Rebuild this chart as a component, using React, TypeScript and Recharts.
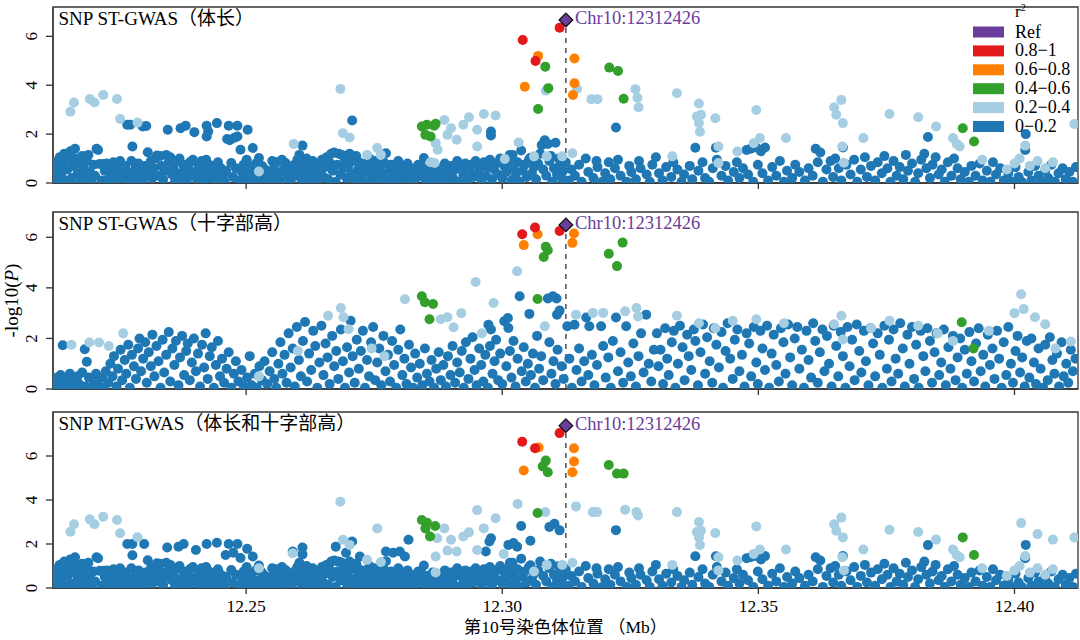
import React from 'react';
import { ScatterChart, Scatter, XAxis, YAxis, ReferenceLine, ReferenceArea, Legend, Label } from 'recharts';

const FONT = "'Liberation Serif', 'Times New Roman', 'Noto Sans CJK SC', serif";
const AXIS = '#333';

// ---------- axes / labels ----------
const X_MIN = 12.2123;
const X_MAX = 12.4124;
const X_TICKS = [12.25, 12.3, 12.35, 12.4];
const Y_TICKS = [0, 2, 4, 6];
const REF_POS = 12.312426;
const REF_LABEL = 'Chr10:12312426';
const PANEL_TITLES = ['SNP ST-GWAS（体长）', 'SNP ST-GWAS（十字部高）', 'SNP MT-GWAS（体长和十字部高）'];
const Y_MAX = [7.2, 7.0, 8.0];
const REF_LOGP = [6.67, 6.49, 7.38];
const LEGEND_LABELS = ['Ref', '0.8−1', '0.6−0.8', '0.4−0.6', '0.2−0.4', '0−0.2'];
const COLORS = ['#6A3D9A', '#E31A1C', '#FF7F00', '#33A02C', '#A6CEE3', '#1F78B4'];
const X_LABEL = '第10号染色体位置 （Mb）';
const Y_LABEL = '-log10(';

// ---------- background SNPs (r2 0-0.2), body-length trait (used in ST & MT panels) ----------
const bandBlueST = [
[12.2125,0.35],[12.2127,0.85],[12.2130,0.05],[12.2133,0.6],[12.2136,1.05],[12.2139,0.3],[12.2142,0.75],[12.2145,1.2],[12.2148,0.1],[12.2151,0.55],[12.2154,0.95],[12.2157,1.3],[12.2160,0.2],[12.2163,0.7],[12.2166,1.4],[12.2168,1.0],[12.2171,0.4],[12.2174,0.8],[12.2177,0.05],[12.2180,1.1],[12.2183,0.6],[12.2186,0.25],[12.2189,0.9],[12.2192,1.15],[12.2195,0.45],[12.2198,0.05],
[12.2202,0.75],[12.2205,0.3],[12.2208,1.4],[12.2211,1.35],[12.2214,0.78],[12.2218,0.1],[12.2221,0.78],[12.2224,0.5],[12.2228,0.8],[12.2231,0.15],[12.2234,0.75],[12.2238,0.4],[12.2241,0.85],[12.2244,0.05],[12.2247,0.6],[12.2250,0.3],[12.2254,0.9],[12.2257,0.55],
[12.2261,0.2],[12.2264,0.7],[12.2270,0.45],[12.2273,0.05],[12.2276,0.9],[12.2278,1.49],[12.2281,0.3],[12.2284,0.6],[12.2287,0.1],[12.2290,0.8],[12.2293,0.35],[12.2296,0.55],[12.2300,0.15],[12.2303,0.7],[12.2308,1.26],[12.2311,0.4],[12.2314,0.9],[12.2317,0.2],[12.2320,0.6],[12.2323,1.0],[12.2326,1.12],[12.2329,0.3],
[12.2332,1.1],[12.2335,0.7],[12.2338,0.15],[12.2341,0.5],[12.2344,1.15],[12.2349,0.85],[12.2352,1.05],[12.2355,0.35],[12.2358,0.65],[12.2361,0.05],[12.2364,0.9],[12.2367,0.4],[12.2370,1.0],[12.2374,0.2],[12.2377,0.75],[12.2380,0.5],[12.2384,0.1],[12.2387,0.6],[12.2390,0.85],[12.2393,0.3],[12.2396,0.95],
[12.2401,0.45],[12.2404,0.15],[12.2407,0.7],[12.2410,0.35],[12.2413,0.9],[12.2416,0.05],[12.2419,0.55],[12.2422,0.95],[12.2425,0.3],[12.2428,0.75],[12.2432,0.2],[12.2435,0.6],[12.2438,0.1],[12.2441,0.4],[12.2445,0.85],[12.2448,0.15],[12.2451,0.6],[12.2455,0.3],[12.2458,0.05],[12.2461,0.5],[12.2471,0.82],[12.2474,0.25],[12.2480,0.6],[12.2486,0.1],[12.2489,1.36],[12.2492,0.45],[12.2495,0.75],[12.2498,0.2],
[12.2501,0.95],[12.2504,0.55],[12.2507,0.15],[12.2510,0.65],[12.2513,1.43],[12.2516,0.35],[12.2519,0.8],[12.2522,0.05],[12.2525,1.02],[12.2528,0.4],[12.2531,0.7],[12.2534,0.2],[12.2537,0.55],[12.2540,0.1],[12.2544,0.45],[12.2548,0.3],[12.2551,0.9],[12.2554,0.6],[12.2557,0.15],[12.2560,0.85],[12.2563,0.4],[12.2566,0.05],[12.2570,0.95],[12.2573,0.55],[12.2577,0.82],[12.2580,0.25],[12.2583,0.65],[12.2587,0.1],[12.2590,0.45],[12.2594,0.75],[12.2597,0.3],
[12.2600,0.95],[12.2604,1.15],[12.2605,0.6],[12.2610,1.53],[12.2608,0.15],[12.2612,0.8],[12.2615,0.4],[12.2618,1.0],[12.2621,0.05],[12.2624,0.7],[12.2627,0.35],[12.2630,0.9],[12.2633,0.2],[12.2636,0.6],[12.2639,0.1],[12.2642,0.75],[12.2645,0.45],[12.2648,0.95],[12.2651,0.25],[12.2654,0.65],[12.2657,1.05],[12.2660,0.15],[12.2663,0.85],[12.2666,1.2],[12.2669,0.5],[12.2672,1.25],[12.2675,0.05],[12.2678,0.75],[12.2681,1.2],[12.2684,0.35],[12.2687,1.15],[12.2690,0.6],[12.2693,0.95],[12.2696,0.2],[12.2699,0.7],
[12.2702,1.2],[12.2705,0.4],[12.2709,0.9],[12.2712,0.15],[12.2715,1.1],[12.2718,0.55],[12.2721,0.85],[12.2724,0.3],[12.2727,0.65],[12.2730,0.05],[12.2733,0.8],[12.2737,0.45],[12.2741,1.0],[12.2744,0.2],[12.2748,0.6],[12.2751,0.9],[12.2755,0.35],[12.2758,0.1],[12.2762,0.7],[12.2766,0.4],[12.2769,0.85],[12.2773,1.22],[12.2776,0.15],[12.2780,0.55],[12.2783,0.75],[12.2787,0.3],[12.2790,0.05],[12.2794,0.6],[12.2797,0.9],
[12.2801,0.25],[12.2804,0.7],[12.2808,0.45],[12.2811,0.1],[12.2815,0.8],[12.2818,0.35],[12.2822,0.6],[12.2825,0.05],[12.2829,0.5],[12.2832,0.2],[12.2836,0.75],[12.2840,0.3],[12.2843,0.65],[12.2847,1.02],[12.2850,0.15],[12.2854,0.55],[12.2857,0.4],[12.2861,0.05],[12.2864,0.7],[12.2868,0.25],[12.2872,0.5],[12.2876,0.1],[12.2880,0.6],[12.2884,0.35],[12.2888,0.8],[12.2892,0.15],[12.2896,0.45],
[12.2900,0.7],[12.2904,0.2],[12.2908,0.55],[12.2912,0.9],[12.2916,0.05],[12.2920,0.65],[12.2924,0.35],[12.2928,0.8],[12.2932,0.1],[12.2936,0.5],[12.2940,0.75],[12.2944,0.25],[12.2948,0.9],[12.2952,0.4],[12.2956,0.6],[12.2960,0.05],[12.2964,0.85],[12.2968,0.3],[12.2972,0.65],[12.2976,0.95],[12.2980,0.15],[12.2984,0.55],[12.2988,0.8],[12.2992,0.35],[12.2996,1.0],
[12.3000,0.2],[12.3004,0.7],[12.3008,0.45],[12.3012,0.9],[12.3015,1.15],[12.3018,0.1],[12.3020,1.15],[12.3022,0.6],[12.3026,0.3],[12.3030,0.85],[12.3034,0.05],[12.3037,1.33],[12.3040,0.5],[12.3044,0.75],[12.3048,0.25],[12.3052,0.95],[12.3055,1.03],[12.3058,0.4],[12.3062,0.65],[12.3066,0.15],[12.3070,0.8],[12.3074,1.2],[12.3080,0.55],[12.3086,0.3],[12.3092,0.9],[12.3095,1.1],[12.3098,0.05],[12.3101,0.6],[12.3107,0.35],[12.3110,1.0],[12.3113,0.75],[12.3116,0.2],[12.3119,0.5],
[12.3124,0.85],[12.3130,0.1],[12.3135,0.55],[12.3142,0.3],[12.3150,0.75],[12.3155,0.05],[12.3163,1.0],[12.3168,0.45],[12.3178,0.2],[12.3184,0.9],[12.3186,0.65],[12.3195,0.05],[12.3201,0.4],[12.3208,0.85],[12.3211,0.15],[12.3220,0.6],[12.3226,0.95],[12.3231,0.3],[12.3243,0.05],[12.3248,0.7],[12.3252,0.45],[12.3261,0.15],[12.3267,0.9],[12.3270,0.6],[12.3282,0.35],[12.3288,0.05],[12.3293,0.75],
[12.3300,1.05],[12.3306,0.4],[12.3313,0.1],[12.3320,0.65],[12.3330,0.25],[12.3334,0.85],[12.3342,0.55],[12.3350,0.05],[12.3355,0.35],[12.3366,0.7],[12.3371,0.15],[12.3377,1.44],[12.3383,0.5],[12.3391,0.85],[12.3396,0.2],[12.3404,0.05],[12.3411,0.6],[12.3417,1.44],[12.3419,0.95],[12.3428,0.3],[12.3436,0.7],[12.3441,0.1],[12.3452,0.45],[12.3458,0.85],[12.3463,0.2],[12.3470,0.6],[12.3477,1.35],[12.3480,0.35],[12.3485,1.4],[12.3490,0.05],[12.3496,1.45],[12.3499,0.75],
[12.3505,1.3],[12.3508,0.4],[12.3513,1.45],[12.3519,0.1],[12.3527,0.65],[12.3535,0.3],[12.3542,0.9],[12.3550,0.05],[12.3556,0.5],[12.3566,0.2],[12.3572,0.75],[12.3580,0.45],[12.3591,0.1],[12.3598,0.6],[12.3606,0.3],[12.3612,1.4],[12.3616,0.85],[12.3621,1.25],[12.3626,0.05],[12.3633,0.55],[12.3641,0.9],[12.3646,0.25],[12.3650,1.0],[12.3657,0.6],[12.3662,0.1],[12.3665,1.45],[12.3672,0.75],[12.3680,0.35],[12.3687,0.95],[12.3693,0.05],
[12.3700,0.55],[12.3708,1.05],[12.3712,0.25],[12.3720,0.7],[12.3728,0.1],[12.3733,0.85],[12.3741,0.4],[12.3746,1.1],[12.3752,0.6],[12.3758,0.05],[12.3764,0.9],[12.3770,0.3],[12.3776,0.65],[12.3783,0.15],[12.3788,1.15],[12.3792,0.5],[12.3800,0.8],[12.3806,0.05],[12.3812,0.4],[12.3818,0.95],[12.3824,1.2],[12.3828,0.6],[12.3835,0.2],[12.3840,0.75],[12.3846,1.05],[12.3852,0.35],[12.3858,0.55],[12.3864,0.05],[12.3870,0.85],[12.3877,0.3],[12.3882,1.0],[12.3889,0.6],[12.3895,0.15],
[12.3903,0.45],[12.3911,0.05],[12.3916,0.7],[12.3924,0.3],[12.3932,0.8],[12.3938,0.1],[12.3946,0.5],[12.3953,0.05],[12.3958,0.85],[12.3964,0.35],[12.3972,0.6],[12.3979,0.1],[12.3988,0.4],[12.3995,0.05],[12.4002,0.65],[12.4008,0.25],[12.4014,0.05],[12.4021,1.35],[12.4027,0.45],[12.4033,0.1],[12.4040,0.7],[12.4047,0.3],[12.4052,0.05],[12.4060,0.5],[12.4066,0.2],[12.4072,0.75],[12.4079,0.05],[12.4086,0.4],[12.4094,0.6],[12.4100,0.15],[12.4107,0.45],[12.4114,0.05],[12.4120,0.65],
];

// ---------- panel 1: ST-GWAS body length ----------
const p1BlueHigh = [
[12.2268,2.38],[12.2274,2.38],[12.2298,2.31],[12.2305,2.33],[12.2347,2.18],[12.2372,2.24],[12.2382,2.34],[12.2399,2.08],[12.2423,2.34],[12.2426,2.11],[12.2423,1.9],[12.2443,2.45],[12.2463,1.8],[12.2466,2.34],[12.2468,1.75],[12.2477,1.85],[12.2483,2.34],[12.2483,1.9],[12.2503,2.18],[12.2707,2.56],[12.2978,2.11],[12.2978,1.94],[12.3077,1.55],[12.3083,1.75],[12.3089,1.6],[12.3104,1.65],[12.3222,2.27],[12.3831,1.88],[12.4022,2.0],
];
const p1Light = [
[12.2157,2.92],[12.2164,3.29],[12.2195,3.44],[12.2204,3.29],[12.2221,3.6],[12.2248,3.44],[12.2254,2.62],[12.2288,2.47],[12.2525,0.47],[12.2593,1.6],[12.2684,3.85],[12.2689,2.04],[12.2702,1.86],[12.2736,1.15],[12.2756,1.43],[12.2763,1.15],[12.2887,2.58],[12.2870,1.63],[12.2874,1.36],[12.2868,0.82],[12.2860,0.85],[12.2893,1.97],[12.2900,2.24],[12.2911,1.77],[12.2924,2.38],[12.2935,2.69],[12.2964,2.82],[12.2987,2.76],[12.2951,2.18],[12.2951,1.49],[12.3005,0.98],[12.3032,1.66],[12.3062,1.09],
[12.3085,3.78],[12.3146,3.85],[12.3174,3.43],[12.3186,3.43],[12.3260,3.84],[12.3264,3.49],[12.3266,3.1],[12.3087,1.09],[12.3117,1.09],[12.3137,1.22],
[12.3341,3.67],[12.3384,3.25],[12.3380,2.72],[12.3388,2.79],[12.3384,2.45],[12.3386,2.1],[12.3416,2.65],[12.3496,2.99],[12.3648,3.1],[12.3662,3.4],[12.3652,2.79],[12.3665,2.45],[12.3756,2.82],[12.3812,2.69],[12.3847,2.31],[12.4117,2.41],[12.4021,1.53],[12.3880,1.84],[12.3887,1.6],[12.3893,1.49],[12.3705,1.84],[12.3937,0.95],[12.3985,0.55],[12.4000,0.8],[12.4010,1.0],[12.4030,0.7],[12.4045,0.9],[12.4060,0.6],[12.4075,0.85],[12.3554,1.84],[12.3503,1.84],[12.3491,1.63],[12.3422,1.49],[12.3422,0.82],[12.3332,1.09],[12.3459,1.29],[12.3664,1.49],[12.3667,0.83],
];
const p1Green = [[12.2843,2.31],[12.2853,2.38],[12.2867,2.34],[12.2870,2.42],[12.2850,1.97],[12.2860,1.9],[12.3084,4.76],[12.3090,3.88],[12.3070,3.03],[12.3209,4.72],[12.3226,4.58],[12.3237,3.45],[12.3899,2.24],[12.3921,1.7]];
const p1Orange = [[12.3070,5.2],[12.3141,5.09],[12.3044,3.94],[12.3141,4.08],[12.3138,3.6]];
const p1Red = [[12.3112,6.35],[12.3040,5.85],[12.3065,4.99]];

// ---------- panel 2: ST-GWAS cross height ----------
const p2Blue = [
[12.2125,0.3],[12.2127,0.05],[12.2131,0.45],[12.2133,0.15],[12.2138,0.55],[12.2142,1.73],[12.2143,0.25],[12.2147,0.05],[12.2150,0.4],[12.2156,0.6],[12.2158,0.1],[12.2163,0.35],[12.2166,0.05],[12.2171,0.5],[12.2174,0.2],[12.2180,0.65],[12.2185,1.57],[12.2186,0.1],[12.2189,1.08],[12.2193,0.45],[12.2198,0.05],[12.2203,0.3],[12.2207,0.6],[12.2211,0.15],[12.2219,0.45],[12.2222,0.05],[12.2226,0.7],[12.2231,0.25],[12.2235,1.0],[12.2239,0.5],[12.2242,1.3],[12.2247,0.1],[12.2250,0.8],[12.2255,1.55],[12.2258,0.35],[12.2263,1.15],[12.2266,0.6],[12.2270,1.75],[12.2273,0.05],[12.2277,1.35],[12.2281,0.9],[12.2285,0.4],[12.2289,1.6],[12.2292,2.0],[12.2295,0.7],[12.2299,1.2],
[12.2303,1.85],[12.2306,0.25],[12.2310,1.45],[12.2314,0.9],[12.2317,2.15],[12.2321,0.5],[12.2325,1.7],[12.2329,1.1],[12.2333,0.05],[12.2337,1.95],[12.2340,0.65],[12.2344,1.35],[12.2349,2.25],[12.2352,0.3],[12.2356,1.6],[12.2360,0.95],[12.2363,1.9],[12.2368,0.15],[12.2371,1.25],[12.2375,2.1],[12.2379,0.55],[12.2383,1.5],[12.2386,1.8],[12.2390,0.35],[12.2394,1.05],[12.2398,2.0],[12.2402,0.7],[12.2406,1.4],[12.2410,0.1],[12.2414,1.75],[12.2418,0.85],[12.2421,2.2],[12.2425,0.4],[12.2429,1.3],[12.2433,1.65],[12.2437,0.05],[12.2441,0.95],[12.2445,1.9],[12.2449,0.5],[12.2453,1.2],[12.2457,0.25],[12.2462,0.8],[12.2466,1.45],[12.2471,0.05],[12.2476,0.6],[12.2480,1.1],[12.2485,0.3],[12.2491,0.75],[12.2496,0.1],
[12.2502,0.45],[12.2507,1.3],[12.2511,0.15],[12.2517,0.6],[12.2521,0.05],[12.2526,0.9],[12.2531,0.35],[12.2536,1.1],[12.2541,0.2],[12.2546,0.7],[12.2551,1.45],[12.2555,0.4],[12.2559,0.05],[12.2563,1.0],[12.2567,1.85],[12.2571,0.6],[12.2575,1.35],[12.2579,0.25],[12.2583,2.2],[12.2587,0.85],[12.2591,1.6],[12.2595,0.1],[12.2599,2.45],[12.2603,1.15],[12.2607,0.5],[12.2611,1.9],[12.2615,2.65],[12.2619,0.3],[12.2623,1.4],[12.2627,0.75],[12.2631,2.3],[12.2635,1.7],[12.2639,0.05],[12.2643,1.05],[12.2647,2.5],[12.2651,0.55],[12.2655,1.8],[12.2659,1.25],[12.2663,0.2],[12.2668,2.1],[12.2672,0.9],[12.2676,1.5],[12.2680,0.4],[12.2685,2.35],[12.2689,1.1],[12.2693,0.05],[12.2697,1.65],
[12.2701,0.65],[12.2704,2.7],[12.2708,1.3],[12.2712,0.25],[12.2716,1.95],[12.2720,0.8],[12.2724,1.5],[12.2728,2.3],[12.2732,0.05],[12.2736,1.15],[12.2740,0.5],[12.2744,1.85],[12.2748,2.45],[12.2752,0.35],[12.2756,1.05],[12.2760,1.6],[12.2764,0.15],[12.2768,2.1],[12.2772,0.7],[12.2777,1.35],[12.2781,0.3],[12.2785,1.9],[12.2789,0.95],[12.2793,0.05],[12.2797,1.55],[12.2801,2.35],[12.2805,0.55],[12.2809,1.2],[12.2813,0.2],[12.2818,1.75],[12.2822,0.85],[12.2826,0.05],[12.2830,1.4],[12.2834,0.45],[12.2839,1.0],[12.2844,0.15],[12.2849,1.6],[12.2853,0.6],[12.2858,0.3],[12.2862,1.15],[12.2867,0.05],[12.2871,0.8],[12.2876,1.45],[12.2880,0.35],[12.2885,0.95],[12.2890,0.1],[12.2894,1.3],[12.2899,0.55],
[12.2903,1.7],[12.2908,0.25],[12.2912,1.05],[12.2917,0.65],[12.2921,1.5],[12.2925,0.05],[12.2929,1.85],[12.2934,0.4],[12.2938,1.2],[12.2942,2.05],[12.2946,0.75],[12.2950,0.15],[12.2955,1.6],[12.2959,0.95],[12.2963,0.3],[12.2967,1.35],[12.2972,0.05],[12.2973,2.54],[12.2976,1.7],[12.2978,2.35],[12.2981,0.6],[12.2985,1.1],[12.2988,1.95],[12.2992,0.35],[12.2996,1.4],
[12.3000,0.2],[12.3004,2.68],[12.3008,0.9],[12.3011,2.81],[12.3012,2.41],[12.3015,1.5],[12.3018,0.45],[12.3022,1.9],[12.3026,0.1],[12.3030,1.2],[12.3034,3.67],[12.3038,0.7],[12.3042,1.65],[12.3046,0.3],[12.3050,1.0],[12.3053,2.97],[12.3056,0.55],[12.3060,1.4],[12.3064,0.05],[12.3068,2.1],[12.3072,0.8],[12.3076,1.3],[12.3080,0.35],[12.3089,3.58],[12.3099,3.67],[12.3106,3.58],[12.3112,3.1],[12.3107,2.94],[12.3092,1.85],[12.3096,0.6],[12.3100,1.1],[12.3104,0.2],[12.3108,1.55],[12.3116,0.9],[12.3120,0.4],[12.3127,2.48],[12.3131,1.2],[12.3136,0.05],[12.3141,2.54],[12.3145,0.75],[12.3150,1.6],[12.3155,0.3],[12.3160,1.1],[12.3164,2.83],[12.3168,0.55],[12.3170,2.48],[12.3175,1.35],[12.3180,0.15],[12.3185,0.95],[12.3193,2.48],[12.3197,1.7],[12.3202,0.45],[12.3207,1.25],[12.3212,0.05],[12.3216,1.9],[12.3222,2.83],[12.3226,0.7],[12.3231,1.45],[12.3236,0.25],[12.3242,2.48],[12.3246,1.05],[12.3251,0.5],[12.3256,1.8],[12.3261,0.1],[12.3266,1.3],[12.3271,2.2],[12.3276,0.65],[12.3281,2.94],[12.3286,1.0],[12.3291,0.3],[12.3296,1.55],
[12.3302,2.2],[12.3305,0.9],[12.3309,1.55],[12.3314,0.2],[12.3318,2.4],[12.3322,1.2],[12.3325,0.55],[12.3331,1.85],[12.3335,2.3],[12.3338,0.05],[12.3343,1.0],[12.3347,2.5],[12.3352,1.65],[12.3356,0.35],[12.3361,2.15],[12.3364,1.3],[12.3369,0.75],[12.3374,2.35],[12.3377,1.9],[12.3382,0.15],[12.3387,1.45],[12.3392,2.55],[12.3396,0.6],[12.3400,2.05],[12.3405,1.1],[12.3410,0.25],[12.3413,2.4],[12.3418,1.75],[12.3423,0.85],[12.3428,2.25],[12.3431,0.05],[12.3436,1.5],[12.3440,2.6],[12.3445,1.2],[12.3450,0.4],[12.3454,1.95],[12.3459,2.35],[12.3463,0.7],[12.3468,1.35],[12.3473,0.1],[12.3477,2.2],[12.3482,1.8],[12.3486,0.5],[12.3491,2.45],[12.3496,1.05],[12.3499,0.2],
[12.3504,2.3],[12.3508,1.6],[12.3513,0.75],[12.3517,2.5],[12.3521,0.05],[12.3526,1.4],[12.3530,2.15],[12.3535,0.95],[12.3540,0.3],[12.3544,2.4],[12.3549,1.85],[12.3553,0.6],[12.3558,2.55],[12.3562,1.25],[12.3566,0.15],[12.3571,2.0],[12.3576,2.45],[12.3580,0.8],[12.3585,1.55],[12.3589,0.05],[12.3594,2.3],[12.3598,1.15],[12.3603,0.45],[12.3607,2.6],[12.3611,1.9],[12.3616,0.25],[12.3620,1.45],[12.3625,2.35],[12.3629,0.7],[12.3634,2.1],[12.3638,1.0],[12.3643,0.1],[12.3647,2.5],[12.3652,1.7],[12.3656,0.5],[12.3661,2.25],[12.3665,1.3],[12.3670,0.05],[12.3674,2.45],[12.3678,0.9],[12.3683,1.95],[12.3688,0.35],[12.3692,2.55],[12.3697,1.5],
[12.3701,0.65],[12.3706,2.3],[12.3710,1.1],[12.3715,0.15],[12.3719,2.4],[12.3724,1.8],[12.3728,0.5],[12.3733,2.2],[12.3737,1.35],[12.3742,0.05],[12.3746,2.5],[12.3751,0.8],[12.3755,1.95],[12.3760,0.3],[12.3764,2.35],[12.3768,1.2],[12.3773,0.6],[12.3777,2.6],[12.3782,1.6],[12.3786,0.1],[12.3791,2.15],[12.3795,1.0],[12.3800,2.45],[12.3804,0.4],[12.3808,1.75],[12.3813,0.05],[12.3817,2.3],[12.3822,1.3],[12.3826,0.7],[12.3830,2.4],[12.3835,1.9],[12.3839,0.25],[12.3844,1.45],[12.3848,2.2],[12.3853,0.55],[12.3857,1.05],[12.3862,2.35],[12.3866,0.15],[12.3871,1.65],[12.3875,0.8],[12.3880,2.1],[12.3885,0.35],[12.3889,1.25],[12.3894,2.0],[12.3898,0.05],
[12.3903,1.55],[12.3907,0.6],[12.3912,2.25],[12.3916,1.1],[12.3921,0.3],[12.3925,1.8],[12.3930,2.4],[12.3934,0.7],[12.3939,1.35],[12.3943,0.1],[12.3948,2.15],[12.3952,0.95],[12.3957,1.6],[12.3961,0.4],[12.3966,2.3],[12.3970,1.2],[12.3975,0.05],[12.3979,1.85],[12.3984,0.55],[12.3988,2.45],[12.3993,1.0],[12.3997,0.25],[12.4002,1.5],[12.4006,2.1],[12.4011,0.65],[12.4015,1.25],[12.4020,0.1],[12.4024,1.9],[12.4029,0.45],[12.4033,2.0],[12.4038,1.05],[12.4042,0.2],[12.4047,1.6],[12.4051,0.8],[12.4056,0.05],[12.4060,1.75],[12.4065,0.35],[12.4069,2.05],[12.4074,1.15],[12.4078,0.6],[12.4083,1.4],[12.4087,0.1],[12.4092,1.85],[12.4096,0.5],[12.4101,1.0],[12.4105,0.25],[12.4110,1.55],[12.4114,0.7],[12.4119,1.2],
];
const p2Light = [
[12.2159,1.75],[12.2194,1.84],[12.2213,1.84],[12.2232,1.7],[12.2260,2.2],[12.2525,0.5],[12.2601,1.5],[12.2660,2.9],[12.2685,3.2],[12.2690,2.84],[12.2700,2.36],[12.2745,1.6],[12.2770,1.3],[12.2810,3.55],[12.2880,2.76],[12.2893,2.84],[12.2905,2.44],[12.2920,3.0],[12.2948,4.23],[12.2960,2.2],[12.2983,3.4],[12.3029,4.66],[12.3083,2.48],[12.3144,2.94],[12.3177,3.01],[12.3197,3.01],[12.3240,3.07],[12.3262,3.2],[12.3265,2.87],
[12.3341,2.9],[12.3384,2.6],[12.3416,2.4],[12.3450,2.7],[12.3496,2.76],[12.3550,2.6],[12.3648,2.56],[12.3662,2.9],[12.3665,1.96],[12.3720,2.4],[12.3756,2.7],[12.3812,2.5],[12.3850,2.2],[12.3880,1.9],[12.3950,2.3],[12.4000,3.0],[12.4013,3.75],[12.4018,3.16],[12.4040,2.84],[12.4060,2.56],[12.4110,1.88],[12.4080,1.6],
];
const p2Green = [[12.2843,3.67],[12.2849,3.43],[12.2865,3.36],[12.2858,2.76],[12.3085,5.63],[12.3089,5.49],[12.3081,5.22],[12.3235,5.79],[12.3208,5.35],[12.3224,4.86],[12.3069,3.56],[12.3897,2.64],[12.3920,1.6]];
const p2Orange = [[12.3069,6.12],[12.3042,5.69],[12.3140,6.15],[12.3137,5.78]];
const p2Red = [[12.3112,6.25],[12.3039,6.12],[12.3064,6.39]];

// ---------- panel 3: MT-GWAS ----------
const p3BlueHigh = [
[12.2268,2.0],[12.2278,2.0],[12.2301,2.0],[12.2346,1.84],[12.2368,1.88],[12.2378,2.0],[12.2402,1.73],[12.2423,2.0],[12.2443,2.06],[12.2466,2.0],[12.2483,2.0],[12.2502,1.78],[12.2460,1.5],[12.2475,1.6],[12.2591,1.66],[12.2610,1.84],[12.2675,1.88],[12.2707,2.11],[12.2695,1.6],[12.2722,1.43],[12.2773,1.66],[12.2787,1.6],[12.2800,1.66],[12.2810,1.43],[12.2817,2.19],[12.2978,2.26],[12.2975,2.11],[12.2968,1.66],[12.3012,1.96],[12.3029,1.88],[12.3022,2.04],[12.3037,2.82],[12.3055,2.15],[12.3092,2.77],[12.3102,2.92],[12.3112,2.62],[12.3222,2.63],[12.3831,1.95],[12.4022,1.96],
];
const p3Light = [
[12.2157,2.56],[12.2164,2.9],[12.2195,3.12],[12.2204,2.9],[12.2221,3.24],[12.2248,3.09],[12.2254,2.49],[12.2288,2.31],[12.2525,0.9],[12.2591,1.58],[12.2684,3.92],[12.2689,2.19],[12.2702,1.96],[12.2756,2.71],[12.2736,1.28],[12.2763,1.18],[12.2887,2.71],[12.2873,2.26],[12.2893,1.7],[12.2870,1.43],[12.2870,0.71],[12.2900,2.19],[12.2911,1.66],[12.2924,2.34],[12.2935,2.53],[12.2951,3.54],[12.2964,2.71],[12.2987,3.17],[12.2951,1.73],[12.3003,1.55],[12.3030,3.82],[12.3062,0.75],[12.3084,3.45],[12.3144,3.71],[12.3177,3.45],[12.3185,3.45],[12.3240,3.56],[12.3262,3.45],[12.3265,3.3],[12.3087,1.05],[12.3117,1.05],[12.3137,1.15],
[12.3341,3.45],[12.3384,3.0],[12.3380,2.55],[12.3388,2.6],[12.3384,2.3],[12.3386,1.95],[12.3416,2.5],[12.3496,2.8],[12.3648,2.9],[12.3662,3.2],[12.3652,2.6],[12.3665,2.3],[12.3756,2.65],[12.3812,2.55],[12.3847,2.2],[12.4117,2.3],[12.4021,1.45],[12.3880,1.75],[12.3887,1.5],[12.3893,1.4],[12.3705,1.75],[12.3937,0.9],[12.3985,0.55],[12.4000,0.8],[12.4010,1.0],[12.4030,0.7],[12.4045,0.9],[12.4060,0.6],[12.4075,0.85],[12.3554,1.75],[12.3503,1.75],[12.3491,1.55],[12.3422,1.4],[12.3422,0.8],[12.3332,1.05],[12.3459,1.25],[12.3664,1.4],[12.3667,0.8],[12.4013,2.95],[12.4045,2.45],[12.4075,2.2],
];
const p3Green = [[12.2843,3.09],[12.2853,2.97],[12.2850,2.71],[12.2869,2.82],[12.2859,2.34],[12.3085,5.79],[12.3079,5.53],[12.3089,5.26],[12.3208,5.59],[12.3224,5.2],[12.3237,5.2],[12.3069,3.41],[12.3899,2.3],[12.3921,1.5]];
const p3Orange = [[12.3071,6.39],[12.3140,6.35],[12.3042,5.34],[12.3140,5.75],[12.3137,5.26]];
const p3Red = [[12.3112,7.04],[12.3039,6.65],[12.3064,6.35]];

// ---------- rendering helpers ----------
const toPts = (a: number[][]) => a.map(([x, y]) => ({ x, y }));

const makeDot = (fill: string) => (props: any) => (
  <circle cx={props.cx} cy={props.cy} r={5} fill={fill} />
);

const refShape = (props: any) => {
  const { cx, cy } = props;
  const s = 6.8;
  return (
    <g>
      <polygon points={`${cx},${cy - s} ${cx + s},${cy} ${cx},${cy + s} ${cx - s},${cy}`} fill={COLORS[0]} stroke="#111" strokeWidth={1.3} />
      <text x={cx + 9} y={cy - 1.5} dominantBaseline="central" fill={COLORS[0]} fontSize={18.5} fontFamily={FONT}>{REF_LABEL}</text>
    </g>
  );
};

const yTick = (props: any) => {
  const { y, payload } = props;
  return (
    <text x={37} y={y} transform={`rotate(-90, 37, ${y})`} textAnchor="middle" fontSize={17} fontFamily={FONT} fill="#000">
      {payload.value}
    </text>
  );
};

const emptyTick = () => <g />;

const yLabelContent = (props: any) => {
  const vb = props.viewBox || { x: 10, y: 7, width: 43, height: 177 };
  const cy = vb.y + vb.height / 2;
  return (
    <text x={18} y={cy} transform={`rotate(-90, 18, ${cy})`} textAnchor="middle" fontSize={19} fontFamily={FONT} fill="#000">
      {Y_LABEL}<tspan fontStyle="italic">P</tspan>)
    </text>
  );
};

const xLabelContent = (props: any) => {
  const vb = props.viewBox || { x: 53, y: 183, width: 1025, height: 52 };
  return (
    <text x={vb.x + vb.width / 2} y={vb.y + 45} textAnchor="middle" fontSize={17.5} fontFamily={FONT} fill="#000">
      {X_LABEL}
    </text>
  );
};

const renderLegend = () => (
  <svg width={120} height={140} style={{ display: 'block' }}>
    <text x={55} y={17} fontSize={17} fontFamily={FONT} fill="#000">
      r<tspan dy={-6} fontSize={10}>2</tspan>
    </text>
    {LEGEND_LABELS.map((lab, i) => {
      const cy = 32 + i * 18.9;
      return (
        <g key={lab}>
          <rect x={13} y={cy - 5.5} width={31} height={11} fill={COLORS[i]} />
          <text x={55} y={cy + 5.5} fontSize={18} fontFamily={FONT} fill="#000">{lab}</text>
        </g>
      );
    })}
  </svg>
);

type PanelProps = {
  top: number; height: number; xAxisH: number; yMax: number; title: string; refY: number;
  blue: number[][]; light: number[][]; green: number[][]; orange: number[][]; red: number[][];
  last?: boolean; legend?: boolean; yLabel?: boolean;
};

function Panel(p: PanelProps) {
  const refData = [{ x: REF_POS, y: p.refY }];
  const titleContent = (lp: any) => {
    const vb = lp.viewBox || { x: 53, y: 7 };
    return (
      <text x={vb.x + 5.5} y={vb.y + 17.8} fontSize={19} fontFamily={FONT} fill="#000">{p.title}</text>
    );
  };
  return (
    <div style={{ position: 'absolute', left: 0, top: p.top, width: 1080, height: p.height }}>
      <ScatterChart width={1080} height={p.height} margin={{ top: 7, right: 2, bottom: 0, left: 10 }}>
        <XAxis
          type="number" dataKey="x" domain={[X_MIN, X_MAX]} allowDataOverflow ticks={X_TICKS} interval={0}
          height={p.xAxisH} tickSize={6} tickMargin={6}
          axisLine={{ stroke: AXIS, strokeWidth: 1.3 }} tickLine={{ stroke: AXIS, strokeWidth: 1.3 }}
          tick={p.last ? { fontSize: 17.5, fill: '#000', fontFamily: FONT } : emptyTick}
          tickFormatter={(v: number) => v.toFixed(2)}
        >
          {p.last ? <Label content={xLabelContent} /> : null}
        </XAxis>
        <YAxis
          type="number" dataKey="y" domain={[0, p.yMax]} allowDataOverflow ticks={Y_TICKS} interval={0}
          width={43} tickSize={7}
          axisLine={{ stroke: AXIS, strokeWidth: 1.3 }} tickLine={{ stroke: AXIS, strokeWidth: 1.3 }}
          tick={yTick}
        >
          {p.yLabel ? <Label content={yLabelContent} /> : null}
        </YAxis>
        <ReferenceArea x1={X_MIN} x2={X_MAX} y1={0} y2={p.yMax} fill="none" fillOpacity={0} stroke={AXIS} strokeWidth={1.3} label={titleContent} />
        <Scatter data={toPts(p.blue)} fill={COLORS[5]} shape={makeDot(COLORS[5])} isAnimationActive={false} />
        <Scatter data={toPts(p.light)} fill={COLORS[4]} shape={makeDot(COLORS[4])} isAnimationActive={false} />
        <ReferenceLine segment={[{ x: REF_POS, y: 0 }, { x: REF_POS, y: p.refY }]} stroke="#333" strokeWidth={1.3} strokeDasharray="5 5" />
        <Scatter data={toPts(p.green)} fill={COLORS[3]} shape={makeDot(COLORS[3])} isAnimationActive={false} />
        <Scatter data={toPts(p.orange)} fill={COLORS[2]} shape={makeDot(COLORS[2])} isAnimationActive={false} />
        <Scatter data={toPts(p.red)} fill={COLORS[1]} shape={makeDot(COLORS[1])} isAnimationActive={false} />
        <Scatter data={refData} fill={COLORS[0]} shape={refShape} isAnimationActive={false} />
        {p.legend ? (
          <Legend content={renderLegend} layout="horizontal" verticalAlign="middle" align="center"
            wrapperStyle={{ top: 0, left: 960, width: 120, height: 140 }} />
        ) : null}
      </ScatterChart>
    </div>
  );
}

export default function App() {
  return (
    <div style={{ position: 'relative', width: 1080, height: 640, background: '#fff', overflow: 'hidden' }}>
      <style>{'body{margin:0;background:#fff}'}</style>
      <Panel top={0} height={200} xAxisH={17} yMax={Y_MAX[0]} title={PANEL_TITLES[0]} refY={REF_LOGP[0]}
        blue={[...bandBlueST, ...p1BlueHigh]} light={p1Light} green={p1Green} orange={p1Orange} red={p1Red} legend />
      <Panel top={205} height={195} xAxisH={11} yMax={Y_MAX[1]} title={PANEL_TITLES[1]} refY={REF_LOGP[1]}
        blue={p2Blue} light={p2Light} green={p2Green} orange={p2Orange} red={p2Red} yLabel />
      <Panel top={405} height={235} xAxisH={52} yMax={Y_MAX[2]} title={PANEL_TITLES[2]} refY={REF_LOGP[2]}
        blue={[...bandBlueST, ...p3BlueHigh]} light={p3Light} green={p3Green} orange={p3Orange} red={p3Red} last />
    </div>
  );
}
